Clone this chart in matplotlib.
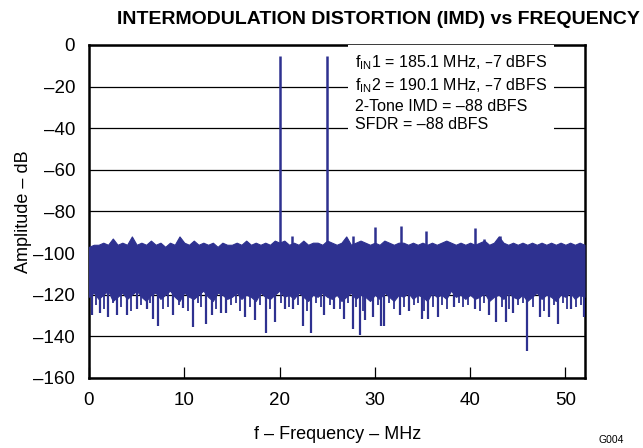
import matplotlib
matplotlib.use('Agg')
import matplotlib.pyplot as plt
import numpy as np

plt.rcParams['font.family'] = ['Liberation Sans', 'DejaVu Sans']

trace_color = '#2e3190'

# noise floor, read every 0.5 MHz: upper edge and bottom of the solid band (dB)
freq = np.arange(0, 52.01, 0.5)
floor_top = [-97, -96, -96, -95, -96, -93, -96, -95, -96, -92,
             -96, -95, -96, -94, -96, -95, -97, -95, -96, -92,
             -95, -96, -94, -96, -95, -96, -95, -97, -95, -96,
             -96, -95, -96, -94, -96, -95, -96, -95, -96, -94,
             -95, -94, -96, -95, -96, -94, -96, -95, -95, -96,
             -94, -95, -96, -95, -92, -96, -95, -94, -95, -96,
             -95, -96, -94, -95, -96, -95, -95, -96, -95, -96,
             -95, -96, -95, -96, -95, -94, -95, -96, -95, -96,
             -95, -96, -95, -94, -96, -95, -92, -95, -96, -95,
             -96, -95, -96, -95, -96, -95, -96, -95, -96, -95,
             -96, -95, -96, -95, -96]
floor_bottom = [-121, -119, -122, -120, -118, -123, -121, -119, -122, -120,
                -118, -121, -123, -120, -119, -122, -120, -118, -121, -123,
                -119, -121, -122, -120, -118, -121, -123, -119, -120, -122,
                -121, -119, -122, -120, -121, -123, -119, -121, -122, -120,
                -118, -121, -120, -122, -119, -121, -123, -120, -121, -119,
                -121, -122, -120, -123, -121, -119, -122, -120, -121, -123,
                -120, -122, -119, -121, -123, -120, -121, -119, -122, -120,
                -121, -123, -119, -121, -120, -122, -118, -121, -120, -122,
                -120, -122, -121, -119, -123, -121, -120, -122, -119, -121,
                -122, -120, -123, -121, -119, -122, -120, -121, -123, -120,
                -121, -119, -122, -120, -121]

# deep downward excursions below the solid band
dip_freq = [0.3, 1.15, 2.0, 2.9, 3.95, 5.0, 6.05, 6.75, 7.27, 8.85, 9.9, 10.87,
            12.3, 12.9, 13.9, 14.4, 16.35, 17.4, 18.6, 19.5, 20.6, 21.4, 22.5,
            23.3, 24.7, 25.7, 26.8, 27.7, 28.4, 29.0, 29.8, 30.7, 31.0, 32.6,
            33.6, 34.9, 35.6, 36.6, 38.3, 40.5, 42.0, 42.7, 43.8, 44.5, 46.0,
            47.3, 48.3, 49.2, 50.6, 52.0]
dip_level = [-129.8, -129, -130.6, -129.8, -129.8, -127, -127, -131.5, -134.9,
             -129.8, -126.5, -135.7, -134, -129.8, -129, -129, -130.6, -132.2,
             -138.3, -133, -127, -127, -134.9, -138.3, -129.8, -127, -131.5,
             -136.3, -139.2, -132, -130.6, -134.9, -134.9, -129.8, -128, -131.8,
             -131.5, -130.6, -125.8, -127, -129.8, -133, -133, -129, -146.8,
             -130.6, -130.6, -134, -127, -130.6]

# shallower excursions between them
small_dip_freq = [0.7, 1.6, 2.5, 3.4, 4.4, 5.5, 6.4, 7.8, 8.3, 9.4, 10.4, 11.4,
                  11.8, 13.3, 14.9, 15.4, 15.9, 16.9, 17.9, 19.0, 20.2, 21.0,
                  21.9, 22.9, 23.8, 24.3, 25.3, 26.3, 27.2, 28.0, 28.8, 30.3,
                  31.5, 32.0, 33.1, 34.1, 34.5, 35.2, 36.1, 37.1, 37.6, 38.8,
                  39.3, 39.8, 41.0, 41.5, 43.3, 44.1, 45.0, 45.5, 46.6, 47.8,
                  48.8, 49.7, 50.2, 51.1, 51.6]
small_dip_level = [-125, -127, -124, -126, -128, -125, -124, -127, -126, -125,
                   -128, -124, -126, -127, -125, -124, -128, -126, -125, -127,
                   -124, -126, -125, -128, -124, -126, -125, -127, -124, -126,
                   -128, -125, -124, -127, -126, -125, -124, -128, -126, -125,
                   -127, -124, -126, -125, -128, -124, -126, -127, -125, -124,
                   -126, -128, -125, -124, -127, -126, -125]

# tones and spurs above the floor
spur_freq = [20.1, 25.0, 21.3, 27.7, 30.0, 32.7, 35.4, 40.5, 41.5, 43.1]
spur_level = [-5.5, -5.5, -92, -92, -87.5, -87, -89.5, -88, -93, -92]

fig = plt.figure(figsize=(6.43, 4.48), dpi=100)
ax = fig.add_axes([0.1384, 0.1563, 0.772, 0.7433])

ax.fill_between(freq, floor_top, floor_bottom, color=trace_color, lw=0.8, zorder=3)
base = np.interp(dip_freq, freq, floor_bottom)
ax.vlines(dip_freq, base + 3, dip_level, color=trace_color, lw=1.6, zorder=3)
base = np.interp(small_dip_freq, freq, floor_bottom)
ax.vlines(small_dip_freq, base + 3, small_dip_level, color=trace_color, lw=1.3, zorder=3)
base = np.interp(spur_freq, freq, floor_top)
ax.vlines(spur_freq, base - 3, spur_level, color=trace_color, lw=1.8, zorder=3)

ax.set_xlim(0, 52.1)
ax.set_ylim(-160, 0)
ax.set_xticks([0, 10, 20, 30, 40, 50])
ax.set_yticks(np.arange(-160, 1, 20))
ax.set_yticklabels(['\u2013160', '\u2013140', '\u2013120', '\u2013100', '\u201380',
                    '\u201360', '\u201340', '\u201320', '0'])
ax.grid(axis='y', color='black', lw=0.9, zorder=1)
ax.tick_params(axis='x', direction='in', length=8, width=0.9, labelsize=13.5, pad=10)
ax.tick_params(axis='y', direction='in', length=0, labelsize=13.5, pad=10)
for sp in ax.spines.values():
    sp.set_linewidth(1.8)

ax.set_xlabel('f \u2013 Frequency \u2013 MHz', fontsize=13, labelpad=12)
ax.set_ylabel('Amplitude \u2013 dB', fontsize=13, labelpad=1)
fig.suptitle('INTERMODULATION DISTORTION (IMD) vs FREQUENCY', x=0.588, y=0.975,
             fontsize=14, fontweight='bold')

info = ('f$_{\\mathregular{IN}}$1 = 185.1 MHz, \u20137 dBFS\n'
        'f$_{\\mathregular{IN}}$2 = 190.1 MHz, \u20137 dBFS\n'
        '2-Tone IMD = \u201388 dBFS\n'
        'SFDR = \u201388 dBFS')
ax.text(0.536, 0.975, info, transform=ax.transAxes, fontsize=11.5, va='top', ha='left',
        linespacing=1.3, zorder=4,
        bbox=dict(facecolor='white', edgecolor='none', pad=5))

fig.text(0.95, 0.012, 'G004', fontsize=7.5, ha='center')

fig.savefig('out.png', dpi=100)
